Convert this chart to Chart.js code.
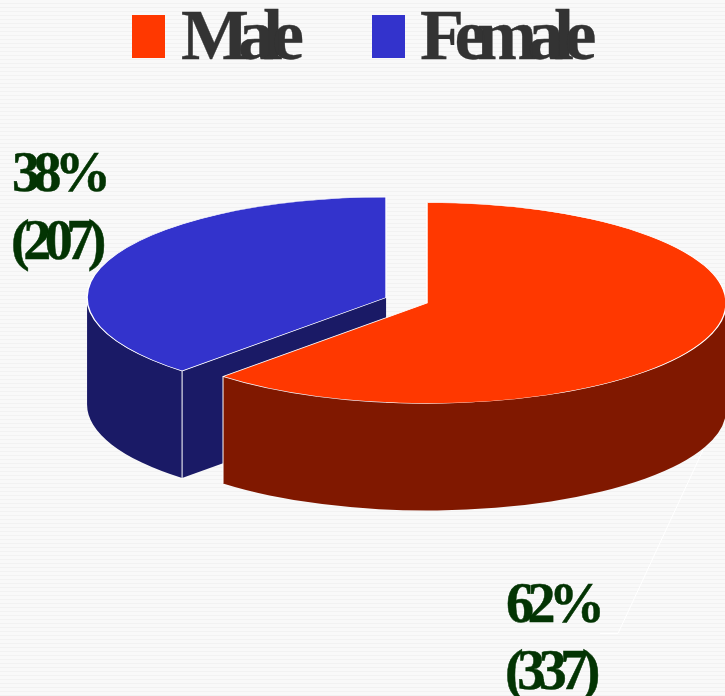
<!DOCTYPE html>
<html>
<head>
<meta charset="utf-8">
<script src="https://cdn.jsdelivr.net/npm/chart.js@4"></script>
<style>
html,body{margin:0;padding:0;width:725px;height:696px;overflow:hidden;
background:repeating-linear-gradient(180deg,#f9f9f9 0,#f9f9f9 3px,#f2f2f2 3px,#f2f2f2 4px);}
canvas{display:block;}
</style>
</head>
<body>
<canvas id="c" width="725" height="696"></canvas>
<script>
const categories = ['Male', 'Female'];
const counts = [337, 207];
const topColors = ['#ff3800', '#3333cc'];
const wallColors = ['#801800', '#1a1a66'];
const explode = [0, 44];

const SQUASH = 0.336, DEPTH = 107, RADIUS = 299;
const total = counts.reduce((a, b) => a + b, 0);
const SERIF = '"Liberation Serif","Times New Roman",serif';
const LABEL_COLOR = '#033403';
const wallAngles = [];

function geom(el, i) {
  const p = el.getProps(['x', 'y'], true);
  const [a0, a1] = wallAngles[i];
  const mid = (a0 + a1) / 2;
  const off = explode[i];
  return { cx: p.x + Math.cos(mid) * off, cy: p.y + Math.sin(mid) * off * SQUASH,
           a0, a1, rx: RADIUS, ry: RADIUS * SQUASH };
}
function edgeLine(ctx, g, a) {
  const x = g.cx + Math.cos(a) * g.rx, y = g.cy + Math.sin(a) * g.ry;
  ctx.beginPath(); ctx.moveTo(x, y); ctx.lineTo(x, y + DEPTH);
  ctx.strokeStyle = '#ffffff'; ctx.lineWidth = 1; ctx.stroke();
}
function drawWall(ctx, g, color, isFemale) {
  ctx.fillStyle = color;
  if (isFemale) {
    const sx = g.cx + Math.cos(g.a0) * g.rx, sy = g.cy + Math.sin(g.a0) * g.ry;
    ctx.beginPath();
    ctx.moveTo(g.cx, g.cy); ctx.lineTo(sx, sy); ctx.lineTo(sx, sy + DEPTH); ctx.lineTo(g.cx, g.cy + DEPTH);
    ctx.closePath(); ctx.fill();
  }
  const from = isFemale ? g.a0 : 0;
  const to = isFemale ? Math.PI : g.a1;
  ctx.beginPath();
  ctx.ellipse(g.cx, g.cy, g.rx, g.ry, 0, from, to);
  ctx.ellipse(g.cx, g.cy + DEPTH, g.rx, g.ry, 0, to, from, true);
  ctx.closePath(); ctx.fill();
  edgeLine(ctx, g, isFemale ? g.a0 : g.a1);
}
function heavyText(ctx, text, x, y, color, weight) {
  ctx.fillStyle = color; ctx.strokeStyle = color; ctx.lineWidth = weight;
  ctx.fillText(text, x, y);
  ctx.strokeText(text, x, y);
}

const pie3d = {
  id: 'pie3d',
  afterDatasetsUpdate(chart) {
    // Arc grows by offset/4 * (1 - sin(circumference)) and trims its angles a little:
    // undo both so the exploded slice keeps the same radius and true radial edges.
    chart.getDatasetMeta(0).data.forEach((el, i) => {
      const grow = explode[i] * (1 - Math.sin(Math.min(Math.PI, el.circumference)));
      el.outerRadius = RADIUS - grow;
      wallAngles[i] = [el.startAngle, el.endAngle];
      const trim = grow / Math.PI / RADIUS / 2;
      el.startAngle -= trim;
      el.endAngle += trim;
    });
  },
  beforeDatasetsDraw(chart) {
    const ctx = chart.ctx, arcs = chart.getDatasetMeta(0).data;
    drawWall(ctx, geom(arcs[1], 1), wallColors[1], true);
    drawWall(ctx, geom(arcs[0], 0), wallColors[0], false);
    const p = arcs[0].getProps(['x', 'y'], true);
    ctx.save();
    ctx.translate(p.x, p.y); ctx.scale(1, SQUASH); ctx.translate(-p.x, -p.y);
  },
  afterDatasetsDraw(chart) {
    chart.ctx.restore();
  },
  afterDraw(chart) {
    const ctx = chart.ctx;
    ctx.save();
    ctx.textBaseline = 'alphabetic'; ctx.textAlign = 'left';
    const lx = [132, 372], tx = [181, 420], sp = ['-11px', '-9.5px'];
    categories.forEach((name, i) => {
      ctx.fillStyle = topColors[i];
      ctx.fillRect(lx[i], 15, 33, 43);
      ctx.font = 'bold 72px ' + SERIF;
      ctx.letterSpacing = sp[i];
      heavyText(ctx, name, tx[i], 59, '#333333', 0.3);
    });
    ctx.beginPath();
    ctx.moveTo(600, 633.5); ctx.lineTo(618, 633.5); ctx.lineTo(703, 450);
    ctx.strokeStyle = '#ffffff'; ctx.lineWidth = 1; ctx.stroke();
    ctx.font = 'bold 56px ' + SERIF;
    ctx.letterSpacing = '-6.5px';
    const spots = [[506, 622, 505, 689], [12, 191, 11, 259]];
    counts.forEach((v, i) => {
      const s = spots[i];
      heavyText(ctx, Math.round(v / total * 100) + '%', s[0], s[1], LABEL_COLOR, 0.5);
      heavyText(ctx, '(' + v + ')', s[2], s[3], LABEL_COLOR, 0.5);
    });
    ctx.restore();
  }
};

new Chart(document.getElementById('c'), {
  type: 'pie',
  data: {
    labels: categories,
    datasets: [{
      data: counts,
      backgroundColor: topColors,
      borderColor: '#ffffff',
      borderWidth: 1.5,
      offset: explode.map(e => e * 4),
      clip: false
    }]
  },
  plugins: [pie3d],
  options: {
    responsive: false,
    animation: false,
    radius: RADIUS,
    layout: { padding: { left: 129, bottom: 90 } },
    plugins: { legend: { display: false }, tooltip: { enabled: false } }
  }
});
</script>
</body>
</html>
